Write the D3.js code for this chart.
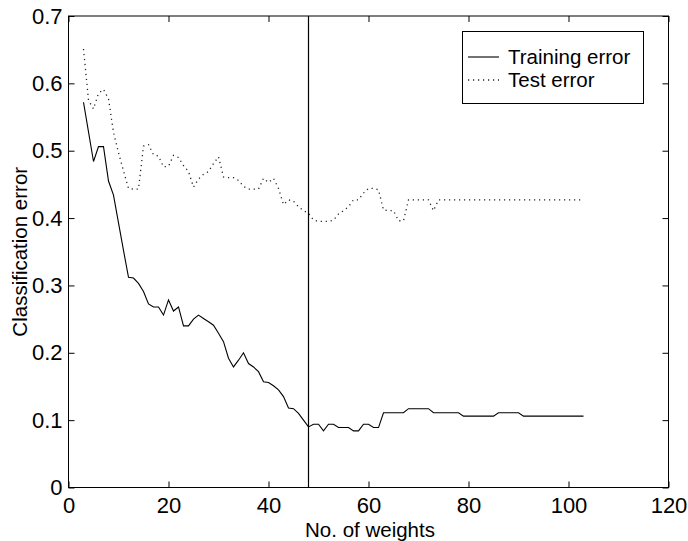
<!DOCTYPE html>
<html><head><meta charset="utf-8">
<script src="https://cdn.jsdelivr.net/npm/d3@7"></script>
<style>body{margin:0;background:#fff}svg{display:block}text{font-family:"Liberation Sans",Arial,sans-serif;fill:#000}</style>
</head><body><div id="chart"></div>
<script>
const weights = d3.range(3, 104);
const trainingError = [
 0.572,0.528,0.484,0.506,0.506,0.455,0.434,0.393,0.352,0.312,
 0.311,0.303,0.291,0.2725,0.268,0.268,0.256,0.2785,0.262,0.268,
 0.240,0.240,0.250,0.256,0.251,0.246,0.241,0.229,0.2165,0.192,
 0.179,0.189,0.200,0.184,0.179,0.172,0.157,0.156,0.151,0.145,
 0.135,0.118,0.117,0.110,0.100,0.090,0.094,0.094,0.084,0.094,
 0.094,0.089,0.089,0.089,0.084,0.084,0.094,0.094,0.089,0.089,
 0.111,0.111,0.111,0.111,0.111,0.117,0.117,0.117,0.117,0.117,
 0.111,0.111,0.111,0.111,0.111,0.111,0.106,0.106,0.106,0.106,
 0.106,0.106,0.106,0.111,0.111,0.111,0.111,0.111,0.106,0.106,
 0.106,0.106,0.106,0.106,0.106,0.106,0.106,0.106,0.106,0.106,
 0.106
];
const testError = [
 0.651,0.575,0.562,0.585,0.591,0.577,0.527,0.497,0.470,0.444,
 0.443,0.443,0.507,0.509,0.494,0.492,0.476,0.477,0.493,0.490,
 0.478,0.469,0.446,0.458,0.465,0.469,0.481,0.491,0.461,0.460,
 0.460,0.456,0.447,0.443,0.443,0.443,0.459,0.453,0.459,0.444,
 0.420,0.427,0.425,0.417,0.411,0.407,0.397,0.395,0.395,0.395,
 0.397,0.406,0.411,0.417,0.427,0.427,0.437,0.444,0.444,0.442,
 0.412,0.411,0.411,0.396,0.396,0.427,0.427,0.427,0.427,0.427,
 0.411,0.427,0.427,0.427,0.427,0.427,0.427,0.427,0.427,0.427,
 0.427,0.427,0.427,0.427,0.427,0.427,0.427,0.427,0.427,0.427,
 0.427,0.427,0.427,0.427,0.427,0.427,0.427,0.427,0.427,0.427,
 0.427
];
const xTicks = [0,20,40,60,80,100,120];
const yTicks = [0,0.1,0.2,0.3,0.4,0.5,0.6,0.7];
const yTickLabels = ["0","0.1","0.2","0.3","0.4","0.5","0.6","0.7"];
const optimalWeights = 48;
const seriesNames = ["Training error","Test error"];
const xLabel = "No. of weights";
const yLabel = "Classification error";

const W = 688, H = 541;
const m = {left:68.5, right:668.5, top:16, bottom:487.5};
const svg = d3.select("#chart").append("svg").attr("width",W).attr("height",H);
const x = d3.scaleLinear().domain([0,120]).range([m.left,m.right]);
const y = d3.scaleLinear().domain([0,0.7]).range([m.bottom,m.top]);
const tickFs = 22, labelFs = 20.5, legendFs = 20.5;

svg.append("rect").attr("x",m.left).attr("y",m.top).attr("width",m.right-m.left).attr("height",m.bottom-m.top)
  .attr("fill","none").attr("stroke","#000").attr("stroke-width",1);

const tl = 6;
const bottomAx = svg.append("g").attr("transform",`translate(0,${m.bottom})`)
  .call(d3.axisBottom(x).tickValues(xTicks).tickSize(-tl).tickPadding(10).tickFormat(d3.format("d")));
const topAx = svg.append("g").attr("transform",`translate(0,${m.top})`)
  .call(d3.axisTop(x).tickValues(xTicks).tickSize(-tl).tickFormat(""));
const leftAx = svg.append("g").attr("transform",`translate(${m.left},0)`)
  .call(d3.axisLeft(y).tickValues(yTicks).tickSize(-tl).tickPadding(6).tickFormat((d,i)=>yTickLabels[i]));
const rightAx = svg.append("g").attr("transform",`translate(${m.right},0)`)
  .call(d3.axisRight(y).tickValues(yTicks).tickSize(-tl).tickFormat(""));
[bottomAx,topAx,leftAx,rightAx].forEach(g=>{
  g.select(".domain").remove();
  g.selectAll("line").attr("stroke","#000");
  g.selectAll("text").attr("font-size",tickFs).attr("font-family","'Liberation Sans',Arial,sans-serif").attr("fill","#000");
});

const line = d3.line().x((d,i)=>x(weights[i])).y(d=>y(d));
svg.append("path").datum(trainingError).attr("d",line).attr("fill","none").attr("stroke","#000").attr("stroke-width",1.1);
svg.append("path").datum(testError).attr("d",line).attr("fill","none").attr("stroke","#222")
  .attr("stroke-width",1.3).attr("stroke-dasharray","1.2,3.8");

svg.append("line").attr("x1",x(optimalWeights)).attr("x2",x(optimalWeights)).attr("y1",m.top).attr("y2",m.bottom)
  .attr("stroke","#000").attr("stroke-width",1.2);

svg.append("text").attr("x",370).attr("y",537).attr("text-anchor","middle").attr("font-size",labelFs).text(xLabel);
svg.append("text").attr("transform",`translate(27,${(m.top+m.bottom)/2}) rotate(-90)`).attr("text-anchor","middle").attr("font-size",labelFs).text(yLabel);

const lg = svg.append("g");
lg.append("rect").attr("x",462.5).attr("y",31.5).attr("width",181).attr("height",72).attr("fill","#fff").attr("stroke","#000");
const ly = [57, 80];
lg.append("line").attr("x1",468).attr("x2",499).attr("y1",ly[0]).attr("y2",ly[0]).attr("stroke","#000").attr("stroke-width",1.1);
lg.append("line").attr("x1",468).attr("x2",499).attr("y1",ly[1]).attr("y2",ly[1]).attr("stroke","#222").attr("stroke-width",1.3).attr("stroke-dasharray","1.2,3.8");
seriesNames.forEach((n,i)=>lg.append("text").attr("x",508).attr("y",ly[i]).attr("dy","0.35em").attr("font-size",legendFs).text(n));
</script></body></html>
